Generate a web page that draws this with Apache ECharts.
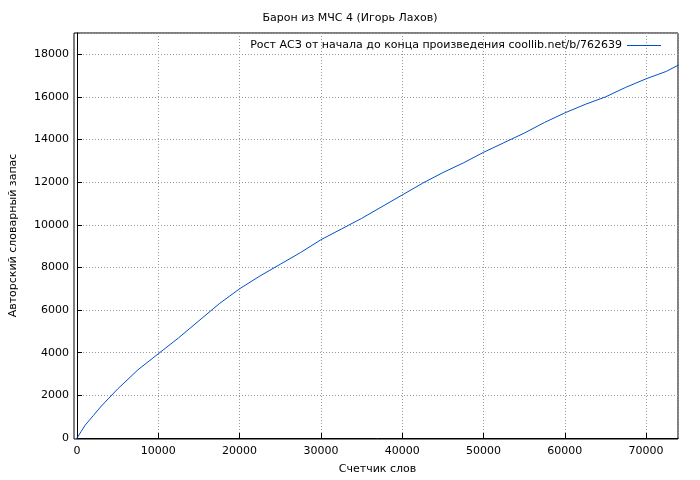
<!DOCTYPE html><html><head><meta charset="utf-8"><script src="https://cdn.jsdelivr.net/npm/echarts@6/dist/echarts.min.js"></script></head><body style="margin:0"><div id="c" style="width:700px;height:480px"></div><script>
var words=[0,500,1000,2000,3000,5000,7500,10000,12500,15000,17500,20000,22500,25000,27500,30000,32500,35000,37500,40000,42500,45000,47500,50000,52500,55000,57500,60000,62500,65000,67500,70000,72500,74000];
var vocab=[0,300,600,1050,1500,2300,3200,3950,4700,5500,6300,7000,7600,8150,8700,9300,9800,10300,10850,11400,11950,12450,12900,13400,13850,14300,14800,15250,15650,16000,16450,16850,17200,17500];
var title='Барон из МЧС 4 (Игорь Лахов)';
var legendText='Рост АСЗ от начала до конца произведения coollib.net/b/762639';
var ch=echarts.init(document.getElementById('c'));
var f='DejaVu Sans';
var plain=function(v){return String(v);};
ch.setOption({animation:false,textStyle:{fontFamily:f},
title:{text:title,left:'center',top:8,textStyle:{fontSize:11,fontWeight:'normal',color:'#000',fontFamily:f}},
legend:{right:34,top:35,itemWidth:34,itemHeight:1,icon:'rect',itemGap:10,align:'right',textStyle:{fontSize:11,color:'#000',fontFamily:f},data:[legendText]},
grid:{left:74,right:22,top:33,bottom:41},
xAxis:{type:'value',min:0,max:73930,interval:10000,name:'Счетчик слов',nameLocation:'middle',nameGap:26,nameTextStyle:{color:'#000',fontSize:11},
axisLine:{lineStyle:{color:'#000'}},axisTick:{inside:true,lineStyle:{color:'#000'}},axisLabel:{color:'#000',fontSize:11,showMaxLabel:false,formatter:plain},
splitLine:{show:true,lineStyle:{color:'#999',type:[1,2]}}},
yAxis:{type:'value',min:0,max:19000,interval:2000,name:'Авторский словарный запас',nameLocation:'middle',nameGap:58,nameTextStyle:{color:'#000',fontSize:11},
axisLine:{show:true,lineStyle:{color:'#000'}},axisTick:{inside:true,lineStyle:{color:'#000'}},axisLabel:{color:'#000',fontSize:11,showMaxLabel:false,formatter:plain},
splitLine:{show:true,lineStyle:{color:'#999',type:[1,2]}}},
series:[{name:legendText,type:'line',data:words.map((w,i)=>[w,vocab[i]]),showSymbol:false,lineStyle:{width:1,color:'#0050c8'},itemStyle:{color:'#0050c8'}}],
graphic:[{type:'rect',shape:{x:74,y:33,width:604,height:406},style:{fill:'none',stroke:'#000',lineWidth:1}}]
});
</script></body></html>
